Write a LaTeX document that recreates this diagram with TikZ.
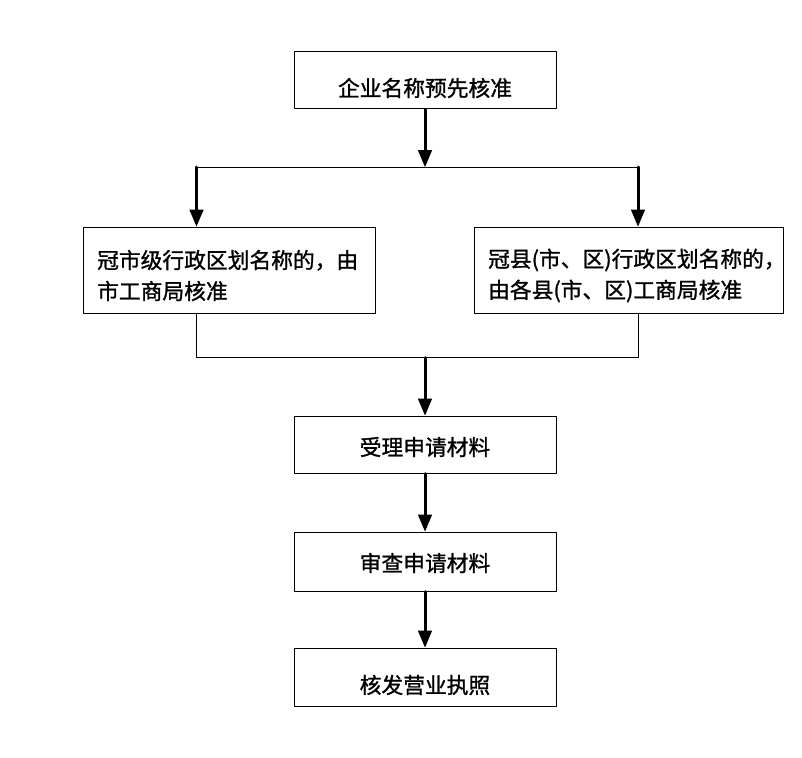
\documentclass[tikz,border=0pt]{standalone}
\usepackage{fontspec}
\setmainfont{Noto Sans CJK SC}[FakeBold=1.2]
\usetikzlibrary{arrows}
\begin{document}
\begin{tikzpicture}[line cap=round,line join=round,>=triangle 45,x=1pt,y=-1pt,
	kuang/.style={draw=black,line width=1pt,minimum width=262,minimum height=57,inner sep=0pt},
	jiantou/.style={->,line width=3pt},
	xian/.style={line width=1pt},
	wenzi/.style={inner sep=0pt,font=\fontsize{21.75}{31}\selectfont}]
			\useasboundingbox (0.,0.) rectangle (802.,757.);
			\node[kuang] (hezhun) at (425.,80.5) {};
			\node[kuang,minimum width=292,minimum height=86] (shiji) at (229.,270.) {};
			\node[kuang,minimum width=309,minimum height=86] (xianji) at (628.5,270.) {};
			\node[kuang] (shouli) at (425.,444.5) {};
			\node[kuang,minimum height=59] (shencha) at (425.,561.5) {};
			\node[kuang,minimum height=58] (hefa) at (425.,677.) {};
			\draw (425.,88.) node[wenzi] (t1) {企业名称预先核准};
			\draw (97.,275.5) node[wenzi,anchor=west,align=left] (t2) {冠市级行政区划名称的，由\\市工商局核准};
			\draw (488.,275.5) node[wenzi,anchor=west,align=left] (t3) {冠县(市、区)行政区划名称的，\\由各县(市、区)工商局核准};
			\draw (425.,447.) node[wenzi] (t4) {受理申请材料};
			\draw (425.,563.) node[wenzi] (t5) {审查申请材料};
			\draw (425.,685.) node[wenzi] (t6) {核发营业执照};
			\coordinate (fenzhi) at (425.,167.);
			\coordinate (zuofen) at (196.5,167.);
			\coordinate (youfen) at (638.,167.);
			\coordinate (huihe) at (425.,357.5);
			\draw [jiantou] (hezhun) -- (fenzhi);
			\draw [xian] (zuofen) -- (youfen);
			\draw [jiantou] (zuofen) -- (zuofen |- shiji.north);
			\draw [jiantou] (youfen) -- (youfen |- xianji.north);
			\draw [xian] (zuofen |- shiji.south) -- (zuofen |- huihe) -- (youfen |- huihe) -- (youfen |- xianji.south);
			\draw [jiantou] (huihe) -- (shouli);
			\draw [jiantou] (shouli) -- (shencha);
			\draw [jiantou] (shencha) -- (hefa);
\end{tikzpicture}
\end{document}
